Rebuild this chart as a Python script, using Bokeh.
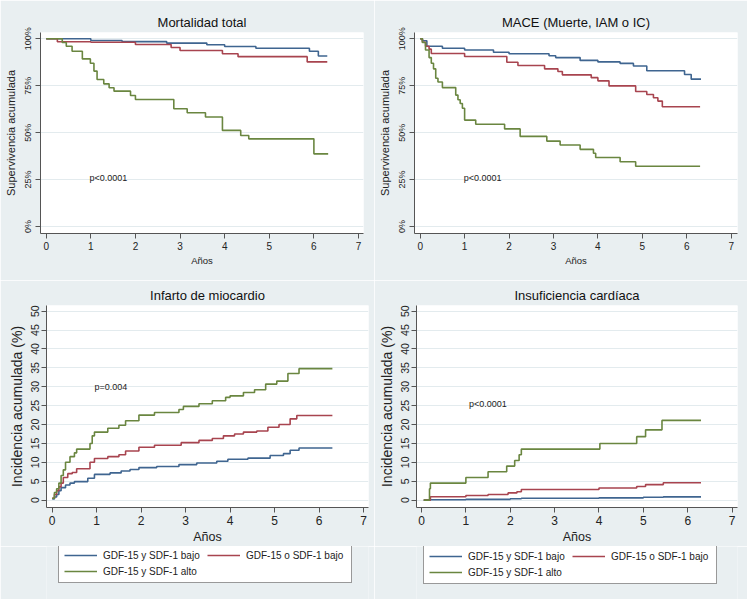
from bokeh.plotting import figure
from bokeh.layouts import column, row
from bokeh.models import Label, Legend, LegendItem, FixedTicker, Range1d
from bokeh.embed import file_html
from bokeh.resources import INLINE

BG = "#e9eff1"
GRID = "#e3ebee"
AXIS = "#555555"
COLORS = ["#3f6590", "#a8444f", "#6a8640"]
FONT = "Liberation Sans"

groups = ["GDF-15 y SDF-1 bajo", "GDF-15 o SDF-1 bajo", "GDF-15 y SDF-1 alto"]
x_ticks = [0, 1, 2, 3, 4, 5, 6, 7]
surv_ticks = [0, 25, 50, 75, 100]
surv_labels = ["0%", "25%", "50%", "75%", "100%"]
inc_ticks = [0, 5, 10, 15, 20, 25, 30, 35, 40, 45, 50]

# Mortalidad total (supervivencia %)
mort_bajo_t = [0, 1.0, 1.7, 2.7, 3.6, 4.0, 4.7, 5.9, 6.1, 6.3]
mort_bajo_s = [100, 99.1, 98.5, 97.7, 96.8, 95.9, 95.0, 93.4, 90.8, 90.8]
mort_medio_t = [0, 0.25, 1.0, 2.0, 2.8, 3.0, 3.95, 4.3, 5.85, 6.3]
mort_medio_s = [100, 98.4, 98.2, 97.0, 95.4, 93.8, 92.0, 90.5, 87.7, 87.7]
mort_alto_t = [0, 0.36, 0.45, 0.58, 0.81, 0.99, 1.07, 1.14, 1.29, 1.41, 1.52,
               1.89, 2.0, 2.86, 3.16, 3.57, 3.95, 4.36, 4.54, 6.0, 6.32]
mort_alto_s = [100, 98, 96, 93.4, 89.3, 87.0, 82.8, 78.3, 76.0, 73.9, 72.1,
               69.8, 67.7, 62.7, 60.6, 58.3, 51.2, 48.5, 46.7, 38.7, 38.7]

# MACE (supervivencia %)
mace_bajo_t = [0, 0.05, 0.15, 0.5, 1.0, 1.65, 2.0, 2.9, 3.05, 3.6, 4.0, 4.5,
               4.8, 5.1, 5.95, 6.1, 6.32]
mace_bajo_s = [100, 99, 96, 95, 94, 92.8, 92, 91, 90, 88.5, 87.7, 86.9,
               85.5, 83, 81, 78.5, 78.5]
mace_medio_t = [0, 0.05, 0.12, 0.2, 0.25, 1.0, 1.95, 2.2, 2.8, 3.1, 3.2, 3.85,
                4.0, 4.25, 4.85, 5.1, 5.25, 5.35, 5.45, 6.3]
mace_medio_s = [100, 98.2, 96, 94.5, 92.2, 90.6, 87.5, 85.8, 84, 82.6, 80.8,
                79.3, 77.6, 74.9, 71.9, 70.3, 68.6, 66.8, 63.8, 63.8]
mace_alto_t = [0, 0.05, 0.12, 0.2, 0.25, 0.3, 0.35, 0.4, 0.5, 0.8, 0.85, 0.9,
               0.95, 1.0, 1.25, 1.9, 2.25, 2.85, 3.15, 3.6, 3.9, 3.95, 4.5,
               4.85, 6.3]
mace_alto_s = [100, 98, 94, 90, 87, 84, 79, 77, 74, 70, 67.5, 65.5, 63, 56.7,
               54.5, 52, 48, 45.5, 43.4, 41.1, 39, 36.8, 34.5, 32.1, 32.1]

# Infarto de miocardio (incidencia %)
im_bajo_t = [0, 0.05, 0.1, 0.15, 0.2, 0.3, 0.4, 0.5, 0.8, 0.95, 1.3, 1.55,
             1.75, 1.95, 2.35, 2.85, 3.25, 3.7, 3.95, 4.4, 4.9, 5.2, 5.35,
             5.55, 6.3]
im_bajo_v = [0.3, 0.8, 1.5, 2.5, 3.3, 4.0, 4.5, 4.9, 5.8, 6.8, 7.2, 7.7, 8.1,
             8.6, 8.9, 9.4, 9.8, 10.3, 10.8, 11.1, 11.8, 12.3, 13.2, 13.8, 13.8]
im_medio_t = [0, 0.05, 0.1, 0.15, 0.2, 0.25, 0.35, 0.45, 0.55, 0.85, 0.95,
              1.25, 1.5, 1.65, 1.95, 2.3, 2.9, 3.3, 3.6, 3.85, 4.1, 4.3, 4.6,
              4.85, 5.1, 5.35, 5.5, 6.3]
im_medio_v = [0.5, 1.5, 2.5, 3.5, 4.5, 6.0, 7.0, 7.3, 8.3, 10.0, 11.0, 11.5,
              12.0, 13.0, 14.0, 14.5, 15.2, 15.8, 16.3, 17.0, 17.5, 18.0, 18.3,
              19.3, 20.0, 21.5, 22.4, 22.4]
im_alto_t = [0, 0.05, 0.1, 0.15, 0.2, 0.25, 0.3, 0.4, 0.5, 0.55, 0.85, 0.9,
             0.95, 1.25, 1.5, 1.65, 1.95, 2.3, 2.85, 2.95, 3.3, 3.6, 3.9, 4.0,
             4.3, 4.55, 4.8, 5.05, 5.3, 5.55, 6.3]
im_alto_v = [0.5, 2.0, 3.0, 4.5, 6.5, 8.0, 10.0, 11.5, 12.5, 13.5, 15.0, 17.0,
             18.0, 19.0, 19.8, 21.0, 22.5, 23.2, 24.0, 24.8, 25.5, 26.3, 27.2,
             27.6, 28.5, 29.2, 30.7, 31.5, 33.5, 34.8, 34.8]

# Insuficiencia cardiaca (incidencia %)
ic_bajo_t = [0.05, 0.2, 1.0, 2.0, 2.25, 4.0, 5.0, 5.45, 6.3]
ic_bajo_v = [0, 0.1, 0.2, 0.35, 0.5, 0.6, 0.75, 0.85, 0.85]
ic_medio_t = [0.05, 0.2, 1.0, 1.5, 1.95, 2.15, 2.25, 4.0, 4.85, 5.05, 5.45, 6.3]
ic_medio_v = [0, 0.9, 1.2, 1.5, 1.9, 2.2, 2.8, 3.2, 3.6, 4.1, 4.6, 4.6]
ic_alto_t = [0.05, 0.18, 0.2, 1.0, 1.5, 1.92, 2.1, 2.2, 2.25, 4.02, 4.85,
             5.05, 5.42, 6.3]
ic_alto_v = [0, 3.0, 4.5, 6.0, 7.5, 9.0, 10.5, 12.0, 13.5, 15.0, 16.8, 18.6,
             21.1, 21.1]


def panel(title, w, h, bl, br, bt, bb, xr, yr, yticks, ylabels, ylab, big,
          series, ptext, px, py):
    p = figure(width=w, height=h, x_range=Range1d(*xr), y_range=Range1d(*yr),
               output_backend="svg", toolbar_location=None,
               min_border_left=bl, min_border_right=br,
               min_border_top=bt, min_border_bottom=bb,
               background_fill_color="white", border_fill_color=BG,
               outline_line_color=None)
    p.title.text = title
    p.title.align = "center"
    p.title.text_font = FONT
    p.title.text_font_size = "13px"
    p.title.text_font_style = "normal"
    p.title.text_color = "#111111"
    p.title.standoff = 5

    p.xaxis.ticker = FixedTicker(ticks=x_ticks)
    p.yaxis.ticker = FixedTicker(ticks=yticks)
    if ylabels is not None:
        p.yaxis.major_label_overrides = {t: l for t, l in zip(yticks, ylabels)}
    p.xaxis.axis_label = "Años"
    p.yaxis.axis_label = ylab
    for ax in (p.xaxis, p.yaxis):
        ax.axis_line_color = AXIS
        ax.major_tick_line_color = AXIS
        ax.major_tick_out = 5
        ax.major_tick_in = 0
        ax.minor_tick_line_color = None
        ax.major_label_text_font = FONT
        ax.axis_label_text_font = FONT
        ax.axis_label_text_font_style = "normal"
        ax.major_label_text_color = "#222222"
        ax.axis_label_text_color = "#222222"
    p.yaxis.major_label_orientation = "vertical"
    if big:
        p.xaxis.major_label_text_font_size = "12px"
        p.yaxis.major_label_text_font_size = "10.5px"
        p.xaxis.axis_label_text_font_size = "12.5px"
        p.yaxis.axis_label_text_font_size = "14px"
    else:
        p.xaxis.major_label_text_font_size = "10px"
        p.yaxis.major_label_text_font_size = "9px"
        p.xaxis.axis_label_text_font_size = "9.5px"
        p.yaxis.axis_label_text_font_size = "11px"
    p.xaxis.major_label_standoff = 3
    p.yaxis.major_label_standoff = 2
    p.xaxis.axis_label_standoff = 2
    p.yaxis.axis_label_standoff = 4

    p.xgrid.visible = False
    p.ygrid.ticker = FixedTicker(ticks=yticks)
    p.ygrid.grid_line_color = GRID
    p.ygrid.grid_line_width = 1

    for (t, v), c in zip(series, COLORS):
        p.step(t, v, mode="after", line_color=c, line_width=1.6)

    p.add_layout(Label(x=px, y=py, text=ptext, text_font=FONT,
                       text_font_size="9px", text_color="#222222",
                       text_align="left", text_baseline="middle"))
    return p


def legend_strip(w, h, series, loc):
    # a strip under a panel that only holds the panel's legend box
    q = figure(width=w, height=h, x_range=Range1d(-0.13, 7.13),
               y_range=Range1d(200, 300), output_backend="svg",
               toolbar_location=None, x_axis_location=None,
               y_axis_location=None, min_border_left=0, min_border_right=0,
               min_border_top=0, min_border_bottom=0,
               background_fill_color=BG, border_fill_color=BG,
               outline_line_color=None)
    q.xgrid.visible = False
    q.ygrid.visible = False
    rends = [q.step(t, v, mode="after", line_color=c, line_width=1.6)
             for (t, v), c in zip(series, COLORS)]
    items = [LegendItem(label=g, renderers=[r]) for g, r in zip(groups, rends)]
    leg = Legend(items=items, location=loc, orientation="horizontal",
                 ncols=2, border_line_color="#333333", border_line_width=1,
                 background_fill_color="white", background_fill_alpha=1.0,
                 label_text_font=FONT, label_text_font_size="10px",
                 label_text_color="#222222",
                 glyph_width=33, glyph_height=12, label_height=12,
                 label_width=100, label_standoff=6, spacing=4,
                 padding=5, margin=0)
    q.add_layout(leg)
    return q


mort_series = [(mort_bajo_t, mort_bajo_s), (mort_medio_t, mort_medio_s),
               (mort_alto_t, mort_alto_s)]
mace_series = [(mace_bajo_t, mace_bajo_s), (mace_medio_t, mace_medio_s),
               (mace_alto_t, mace_alto_s)]
im_series = [(im_bajo_t, im_bajo_v), (im_medio_t, im_medio_v),
             (im_alto_t, im_alto_v)]
ic_series = [(ic_bajo_t, ic_bajo_v), (ic_medio_t, ic_medio_v),
             (ic_alto_t, ic_alto_v)]

p1 = panel("Mortalidad total", 374, 280, 40, 11, 32, 47, (-0.128, 7.112),
           (-3.73, 103.36), surv_ticks, surv_labels, "Supervivencia acumulada",
           False, mort_series, "p<0.0001", 0.97, 26.1)
p2 = panel("MACE (Muerte, IAM o IC)", 373, 280, 40, 10, 32, 47, (-0.128, 7.142),
           (-3.73, 103.36), surv_ticks, surv_labels, "Supervivencia acumulada",
           False, mace_series, "p<0.0001", 0.98, 26.1)
p3 = panel("Infarto de miocardio", 374, 266, 46, 6, 25, 39, (-0.128, 7.112),
           (-1.96, 51.51), inc_ticks, None, "Incidencia acumulada (%)", True,
           im_series, "p=0.004", 0.95, 30.0)
p4 = panel("Insuficiencia cardíaca", 373, 266, 42, 10, 25, 39, (-0.113, 7.122),
           (-1.96, 51.51), inc_ticks, None, "Incidencia acumulada (%)", True,
           ic_series, "p<0.0001", 1.07, 25.5)
l3 = legend_strip(374, 53, im_series, (12, 16))
l4 = legend_strip(373, 53, ic_series, (7, 15))

layout = column(row(p1, p2), row(column(p3, l3), column(p4, l4)))
open("out.html", "w").write(file_html(layout, INLINE))
